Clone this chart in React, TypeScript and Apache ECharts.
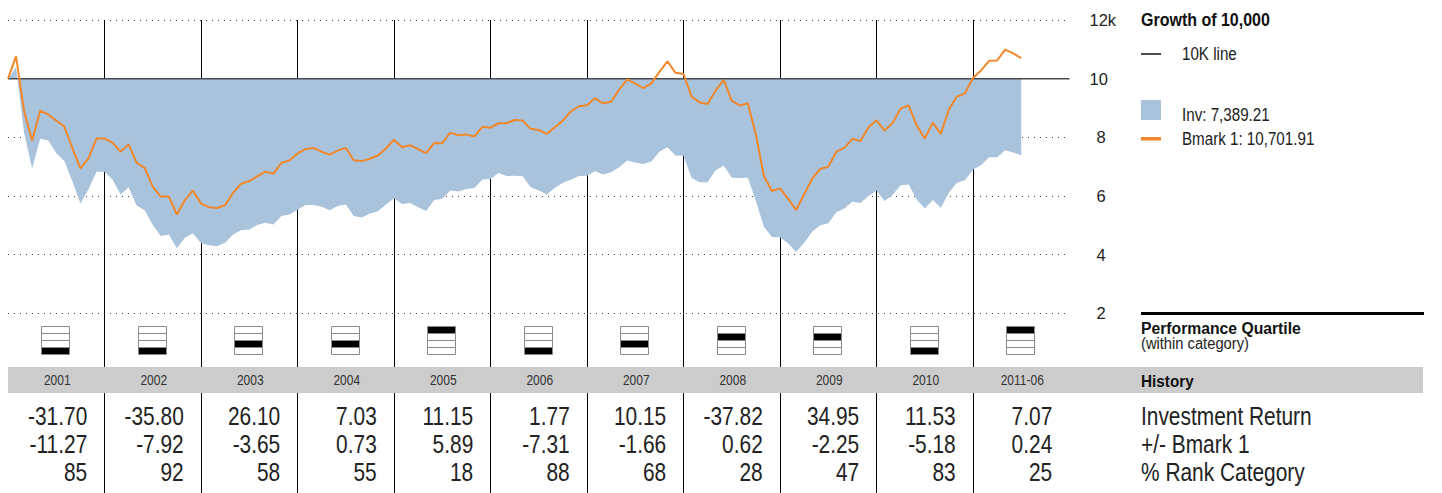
import React, { useEffect, useRef } from "react";
import * as echarts from "echarts";

const FONT = "'Liberation Sans', Arial, sans-serif";
const NARROW = 0.82;

// Month index 0 = 2000-12, 126 = 2011-06 (growth of 10,000, in thousands)
const invValues = [
  10.0, 10.39, 8.16, 6.94, 7.95, 7.89, 7.47, 7.19, 6.51, 5.74, 6.22, 6.83,
  6.83, 6.56, 6.05, 6.3, 5.68, 5.51, 5.01, 4.64, 4.69, 4.22, 4.58, 4.73,
  4.39, 4.32, 4.29, 4.41, 4.69, 4.83, 4.86, 5.01, 5.09, 5.03, 5.32, 5.37,
  5.53, 5.69, 5.69, 5.63, 5.51, 5.66, 5.71, 5.32, 5.27, 5.4, 5.48, 5.71,
  5.92, 5.73, 5.76, 5.62, 5.49, 5.86, 5.91, 6.19, 6.15, 6.24, 6.27, 6.56,
  6.58, 6.78, 6.68, 6.69, 6.67, 6.3, 6.19, 6.05, 6.28, 6.45, 6.55, 6.68,
  6.69, 6.84, 6.73, 6.81, 6.98, 7.21, 7.14, 7.09, 7.18, 7.51, 7.66, 7.38,
  7.37, 6.62, 6.47, 6.47, 6.88, 7.04, 6.62, 6.61, 6.62, 5.83, 4.95, 4.6,
  4.59, 4.39, 4.09, 4.41, 4.78, 5.0, 5.07, 5.45, 5.57, 5.8, 5.76, 6.0,
  6.19, 5.83, 6.03, 6.37, 6.39, 5.88, 5.57, 5.86, 5.6, 6.11, 6.45, 6.54,
  6.9, 7.05, 7.32, 7.32, 7.56, 7.48, 7.39,
];

const bmarkValues = [
  10.0, 10.76, 8.89, 7.89, 8.91, 8.78, 8.57, 8.37, 7.64, 6.94, 7.28, 7.96,
  7.96, 7.82, 7.51, 7.76, 7.13, 6.96, 6.32, 5.98, 5.98, 5.37, 5.86, 6.19,
  5.74, 5.62, 5.59, 5.69, 6.11, 6.42, 6.51, 6.67, 6.83, 6.76, 7.13, 7.21,
  7.45, 7.6, 7.64, 7.51, 7.41, 7.55, 7.64, 7.22, 7.19, 7.27, 7.38, 7.62,
  7.92, 7.66, 7.73, 7.6, 7.46, 7.81, 7.8, 8.16, 8.07, 8.1, 8.03, 8.36,
  8.33, 8.48, 8.48, 8.59, 8.57, 8.29, 8.25, 8.12, 8.34, 8.57, 8.88, 9.06,
  9.09, 9.33, 9.16, 9.21, 9.63, 9.98, 9.83, 9.68, 9.84, 10.23, 10.59, 10.2,
  10.16, 9.39, 9.19, 9.14, 9.6, 9.95, 9.25, 9.08, 9.16, 8.1, 6.68, 6.17,
  6.26, 5.91, 5.52, 6.05, 6.59, 6.92, 7.0, 7.51, 7.64, 7.95, 7.87, 8.34,
  8.58, 8.23, 8.49, 8.98, 9.09, 8.4, 7.96, 8.5, 8.12, 8.95, 9.39, 9.5,
  10.02, 10.28, 10.61, 10.62, 10.99, 10.86, 10.7,
];

const yTicks = [2, 4, 6, 8, 10, 12];
const years = ["2001", "2002", "2003", "2004", "2005", "2006", "2007", "2008", "2009", "2010", "2011-06"];
const investmentReturn = [-31.7, -35.8, 26.1, 7.03, 11.15, 1.77, 10.15, -37.82, 34.95, 11.53, 7.07];
const plusMinusBmark = [-11.27, -7.92, -3.65, 0.73, 5.89, -7.31, -1.66, 0.62, -2.25, -5.18, 0.24];
const rankCategory = [85, 92, 58, 55, 18, 88, 68, 28, 47, 83, 25];
const quartiles = [4, 4, 3, 3, 1, 4, 3, 2, 2, 4, 1];
const rowLabels = ["Investment Return", "+/- Bmark 1", "% Rank Category"];
const legendLabels = { tenK: "10K line", inv: "Inv: 7,389.21", bmark: "Bmark 1: 10,701.91" };

export default function App() {
  const ref = useRef<HTMLDivElement>(null);
  useEffect(() => {
    document.body.style.margin = "0";
    const chart = echarts.init(ref.current!, null, { renderer: "svg" });
    const gridLeft = 8;
    const gridWidth = 1061.5;
    const top0 = 20;
    const h0 = 293.33;
    const lowerH = 493 - (top0 + h0);
    const yearX = years.map((_, i) => i * 12 + 6);

    const ts = (size: number, weight = "normal", color = "#222") => ({
      fontFamily: FONT,
      fontSize: size,
      fontWeight: weight,
      fill: color,
    });

    const gText = (x: number, y: number, text: string, size: number, weight: string, sx: number, color = "#222") => ({
      type: "text",
      z: 10,
      x,
      y,
      scaleX: sx,
      style: { ...ts(size, weight, color), text, verticalAlign: "middle" },
    });

    const option: any = {
      animation: false,
      grid: [
        { left: gridLeft, top: top0, width: gridWidth, height: h0 },
        { left: gridLeft, top: top0 + h0, width: gridWidth, height: lowerH },
      ],
      xAxis: [0, 1].map((g) => ({
        type: "value",
        gridIndex: g,
        min: 0,
        max: 132,
        interval: 12,
        axisLine: { show: false },
        axisTick: { show: false },
        axisLabel: { show: false },
        splitLine: {
          show: true,
          showMinLine: false,
          showMaxLine: false,
          lineStyle: { color: "#000", width: 1, type: "solid" },
        },
      })),
      yAxis: [
        {
          type: "value",
          gridIndex: 0,
          position: "right",
          min: yTicks[0],
          max: yTicks[yTicks.length - 1],
          interval: 2,
          axisLine: { show: false },
          axisTick: { show: false },
          splitLine: { show: true, lineStyle: { color: "#444", width: 1, type: [1, 5] } },
          axisLabel: {
            margin: 20,
            align: "left",
            color: "#222",
            fontFamily: FONT,
            fontSize: 16.5,
            formatter: (v: number) => (v === 12 ? "12k" : v >= 10 ? String(v) : `{p|${v}}`),
            rich: { p: { padding: [0, 0, 0, 7], fontFamily: FONT, fontSize: 16.5, color: "#222" } },
          },
        },
        {
          type: "value",
          gridIndex: 1,
          min: 0,
          max: lowerH,
          inverse: true,
          show: false,
          splitLine: { show: false },
        },
      ],
      series: [
        {
          name: "Inv",
          type: "line",
          xAxisIndex: 0,
          yAxisIndex: 0,
          data: invValues.map((v, i) => [i, v]),
          showSymbol: false,
          symbol: "none",
          lineStyle: { width: 0 },
          areaStyle: { color: "#a9c3dd", opacity: 1, origin: 10 },
          z: 1,
        },
        {
          name: "10K line",
          type: "line",
          data: [
            [0, 10],
            [132, 10],
          ],
          symbol: "none",
          lineStyle: { color: "#4a4a4a", width: 1.5 },
          z: 3,
        },
        {
          name: "Bmark 1",
          type: "line",
          data: bmarkValues.map((v, i) => [i, v]),
          symbol: "none",
          lineStyle: { color: "#f0882b", width: 2 },
          z: 4,
        },
        {
          name: "Quartile",
          type: "custom",
          xAxisIndex: 1,
          yAxisIndex: 1,
          data: yearX.map((x, i) => [x, quartiles[i]]),
          renderItem: (params: any, api: any) => {
            const x = api.value(0);
            const q = api.value(1);
            const c = api.coord([x, 26.7]);
            const left = Math.round(c[0]) - 15 + 0.5;
            const top = Math.round(c[1]) - 14 + 0.5;
            const children: any[] = [];
            for (let r = 0; r < 4; r++) {
              children.push({
                type: "rect",
                shape: { x: left, y: top + r * 7, width: 28, height: 7 },
                style: { fill: r === q - 1 ? "#000" : "#fff", stroke: "#8a8a8a", lineWidth: 1 },
              });
            }
            return { type: "group", children };
          },
          z: 6,
        },
        {
          name: "History",
          type: "custom",
          xAxisIndex: 1,
          yAxisIndex: 1,
          data: yearX.map((x, i) => [x, i]),
          renderItem: (params: any, api: any) => {
            const i = params.dataIndex;
            const x = api.value(0);
            const yr = api.coord([x, 66.7]);
            const r1 = api.coord([x, 102.7]);
            const r2 = api.coord([x, 130.7]);
            const r3 = api.coord([x, 158.9]);
            const rx = yr[0] + 31;
            const num = (y: number, text: string) => ({
              type: "text",
              x: rx,
              y,
              scaleX: NARROW,
              style: { ...ts(25.5), text, align: "right", verticalAlign: "middle" },
            });
            return {
              type: "group",
              children: [
                {
                  type: "text",
                  x: yr[0] + 1,
                  y: yr[1],
                  scaleX: 0.8,
                  style: { ...ts(15, "normal", "#333"), text: years[i], align: "center", verticalAlign: "middle" },
                },
                num(r1[1], investmentReturn[i].toFixed(2)),
                num(r2[1], plusMinusBmark[i].toFixed(2)),
                num(r3[1], String(rankCategory[i])),
              ],
            };
          },
          z: 10,
        },
      ],
      graphic: [
        { type: "rect", z: 5, shape: { x: 8, y: 367, width: 1415, height: 26 }, style: { fill: "#cccccc" } },
        gText(1141, 20.5, "Growth of 10,000", 18, "bold", 0.89, "#111"),
        { type: "line", z: 10, shape: { x1: 1141, y1: 54, x2: 1161, y2: 54 }, style: { stroke: "#111", lineWidth: 1.5 } },
        gText(1182, 54, legendLabels.tenK, 18.5, "normal", NARROW),
        { type: "rect", z: 10, shape: { x: 1141, y: 100, width: 20, height: 20 }, style: { fill: "#a9c3dd" } },
        gText(1182, 114.5, legendLabels.inv, 18.5, "normal", NARROW),
        { type: "rect", z: 10, shape: { x: 1141, y: 137, width: 20, height: 3.5 }, style: { fill: "#f0882b" } },
        gText(1182, 138.5, legendLabels.bmark, 18.5, "normal", NARROW),
        { type: "rect", z: 10, shape: { x: 1141, y: 312, width: 283, height: 3 }, style: { fill: "#000" } },
        gText(1141, 327.5, "Performance Quartile", 17, "bold", 0.925, "#111"),
        gText(1141, 343, "(within category)", 16, "normal", 0.92),
        gText(1141, 380.5, "History", 17, "bold", 0.9, "#111"),
        ...rowLabels.map((t, k) => gText(1141, 416 + k * 28.2, t, 25.5, "normal", NARROW)),
      ],
    };
    chart.setOption(option);
    return () => chart.dispose();
  }, []);
  return <div ref={ref} style={{ width: 1442, height: 493 }} />;
}
